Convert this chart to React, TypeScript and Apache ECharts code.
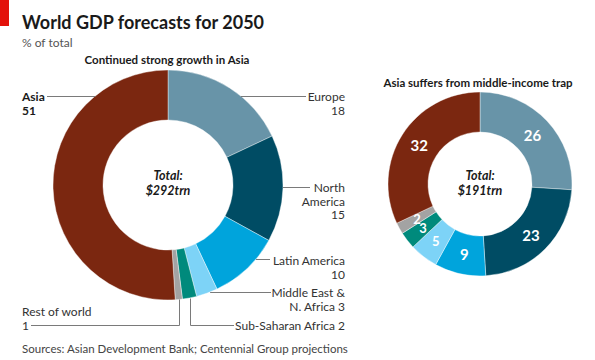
import React, { useEffect, useRef } from "react";
import * as echarts from "echarts";

// ---- data ----
const regions = [
  "Europe",
  "North America",
  "Latin America",
  "Middle East & N. Africa",
  "Sub-Saharan Africa",
  "Rest of world",
  "Asia",
];
const regionLabelLines = [
  "Europe",
  "North\nAmerica",
  "Latin America",
  "Middle East &\nN. Africa",
  "Sub-Saharan Africa",
  "Rest of world",
  "Asia",
];
const valueOnNewLine = [true, true, true, false, false, true, true];
const growthShares = [18, 15, 10, 3, 2, 1, 51];
const trapShares = [26, 23, 9, 5, 3, 2, 32];
const growthTotal = "$292trn";
const trapTotal = "$191trn";
const title = "World GDP forecasts for 2050";
const subtitle = "% of total";
const leftTitle = "Continued strong growth in Asia";
const rightTitle = "Asia suffers from middle-income trap";
const source = "Sources: Asian Development Bank; Centennial Group projections";

// ---- styles / layout ----
const colors = ["#6894a8", "#004c64", "#00a4dc", "#7dd3f7", "#008a7c", "#a3a3a3", "#7b2710"];
const FONT = "Lato, sans-serif";
const L = { cx: 168, cy: 185, r0: 65, r: 115 };
const R = { cx: 480, cy: 184, r0: 52, r: 92 };
const LINE = "#7a7a7a";
const LH = 13.5;

type Lay = {
  kind: "h" | "v";
  side: "left" | "right";
  lineY: number;
  lineEnd: number;
  textX: number;
  textTop: number;
  bold?: boolean;
};
const leftLayout: Lay[] = [
  { kind: "h", side: "right", lineY: 96, lineEnd: 306, textX: 345, textTop: 90 },
  { kind: "h", side: "right", lineY: 187, lineEnd: 310, textX: 345, textTop: 181 },
  { kind: "h", side: "right", lineY: 259, lineEnd: 270, textX: 345, textTop: 254 },
  { kind: "h", side: "right", lineY: 292, lineEnd: 271, textX: 345, textTop: 286 },
  { kind: "v", side: "right", lineY: 325, lineEnd: 234, textX: 345, textTop: 319 },
  { kind: "v", side: "left", lineY: 325, lineEnd: 31, textX: 22, textTop: 305 },
  { kind: "h", side: "left", lineY: 96, lineEnd: 47, textX: 22, textTop: 90, bold: true },
];

function midAngles(vals: number[]) {
  const total = vals.reduce((a, b) => a + b, 0);
  let cum = 0;
  return vals.map((v) => {
    const mid = cum + v / 2;
    cum += v;
    return (mid / total) * Math.PI * 2;
  });
}

function buildLeftLabels() {
  const els: any[] = [];
  const mids = midAngles(growthShares);
  growthShares.forEach((v, i) => {
    const lay = leftLayout[i];
    let pts: number[][];
    if (lay.kind === "h") {
      const dy = lay.lineY - L.cy;
      const dx = Math.sqrt(Math.max(0, L.r * L.r - dy * dy));
      const x0 = lay.side === "right" ? L.cx + dx : L.cx - dx;
      pts = [
        [x0, lay.lineY],
        [lay.lineEnd, lay.lineY],
      ];
    } else {
      const th = mids[i];
      const x0 = Math.round(L.cx + L.r * Math.sin(th)) + 0.5;
      const y0 = L.cy - L.r * Math.cos(th);
      pts = [
        [x0, y0],
        [x0, lay.lineY],
        [lay.lineEnd, lay.lineY],
      ];
    }
    els.push({
      type: "polyline",
      z: 100,
      shape: { points: pts.map((p) => [p[0], Math.round(p[1]) + 0.5]) },
      style: { stroke: LINE, lineWidth: 1, fill: null },
      silent: true,
    });
    const txt = regionLabelLines[i] + (valueOnNewLine[i] ? "\n" : " ") + v;
    els.push({
      type: "text",
      z: 100,
      x: lay.textX,
      y: lay.textTop,
      style: {
        text: txt,
        align: lay.side === "right" ? "right" : "left",
        verticalAlign: "top",
        font: `${lay.bold ? "bold " : ""}12px ${FONT}`,
        lineHeight: LH,
        fill: lay.bold ? "#1a1a1a" : "#333",
      },
    });
  });
  return els;
}

function buildRightLabels() {
  const mids = midAngles(trapShares);
  const rm = (R.r0 + R.r) / 2;
  return trapShares.map((v, i) => ({
    type: "text",
    z: 100,
    x: R.cx + rm * Math.sin(mids[i]),
    y: R.cy - rm * Math.cos(mids[i]),
    style: {
      text: String(v),
      font: `bold ${v < 6 ? 13 : 15}px ${FONT}`,
      fill: "#ffffff",
      align: "center",
      verticalAlign: "middle",
    },
    silent: true,
  }));
}

export default function App() {
  const ref = useRef<HTMLDivElement>(null);
  useEffect(() => {
    if (!ref.current) return;
    const chart = echarts.init(ref.current, null, { renderer: "svg" });
    const mkData = (vals: number[]) =>
      vals.map((v, i) => ({
        value: v,
        name: regions[i],
        itemStyle: { color: colors[i] },
      }));
    chart.setOption({
      animation: false,
      backgroundColor: "#ffffff",
      series: [
        {
          type: "pie",
          center: [L.cx, L.cy],
          radius: [L.r0, L.r],
          startAngle: 90,
          clockwise: true,
          label: { show: false },
          labelLine: { show: false },
          emphasis: { disabled: true },
          itemStyle: { borderColor: "#ffffff", borderWidth: 0.4 },
          data: mkData(growthShares),
        },
        {
          type: "pie",
          center: [R.cx, R.cy],
          radius: [R.r0, R.r],
          startAngle: 90,
          clockwise: true,
          label: { show: false },
          labelLine: { show: false },
          emphasis: { disabled: true },
          itemStyle: { borderColor: "#ffffff", borderWidth: 0.4 },
          data: mkData(trapShares),
        },
      ],
      graphic: [
        { type: "rect", shape: { x: 0, y: 0, width: 9, height: 26 }, style: { fill: "#e3120b" } },
        {
          type: "text",
          x: 22,
          y: 22,
          style: { text: title, font: `bold 18px ${FONT}`, fill: "#1a1a1a", verticalAlign: "middle" },
        },
        {
          type: "text",
          x: 22,
          y: 42,
          style: { text: subtitle, font: `12px ${FONT}`, fill: "#555", verticalAlign: "middle" },
        },
        {
          type: "text",
          x: L.cx - 1,
          y: 59,
          style: { text: leftTitle, font: `bold 11.5px ${FONT}`, fill: "#1a1a1a", align: "center", verticalAlign: "middle" },
        },
        {
          type: "text",
          x: R.cx - 2,
          y: 82,
          style: { text: rightTitle, font: `bold 11.5px ${FONT}`, fill: "#1a1a1a", align: "center", verticalAlign: "middle" },
        },
        {
          type: "text",
          z: 100,
          x: L.cx,
          y: L.cy - 2,
          style: {
            text: "Total:\n" + growthTotal,
            font: `italic bold 12.5px ${FONT}`,
            fill: "#1a1a1a",
            align: "center",
            verticalAlign: "middle",
            lineHeight: 14.2,
          },
        },
        {
          type: "text",
          z: 100,
          x: R.cx,
          y: R.cy - 1,
          style: {
            text: "Total:\n" + trapTotal,
            font: `italic bold 12.5px ${FONT}`,
            fill: "#1a1a1a",
            align: "center",
            verticalAlign: "middle",
            lineHeight: 14.2,
          },
        },
        {
          type: "text",
          x: 22,
          y: 348,
          style: { text: source, font: `11.5px ${FONT}`, fill: "#444", verticalAlign: "middle" },
        },
        ...buildLeftLabels(),
        ...buildRightLabels(),
      ],
    });
    return () => chart.dispose();
  }, []);
  return (
    <div
      ref={ref}
      style={{ position: "fixed", left: 0, top: 0, width: 595, height: 360, background: "#fff" }}
    />
  );
}
